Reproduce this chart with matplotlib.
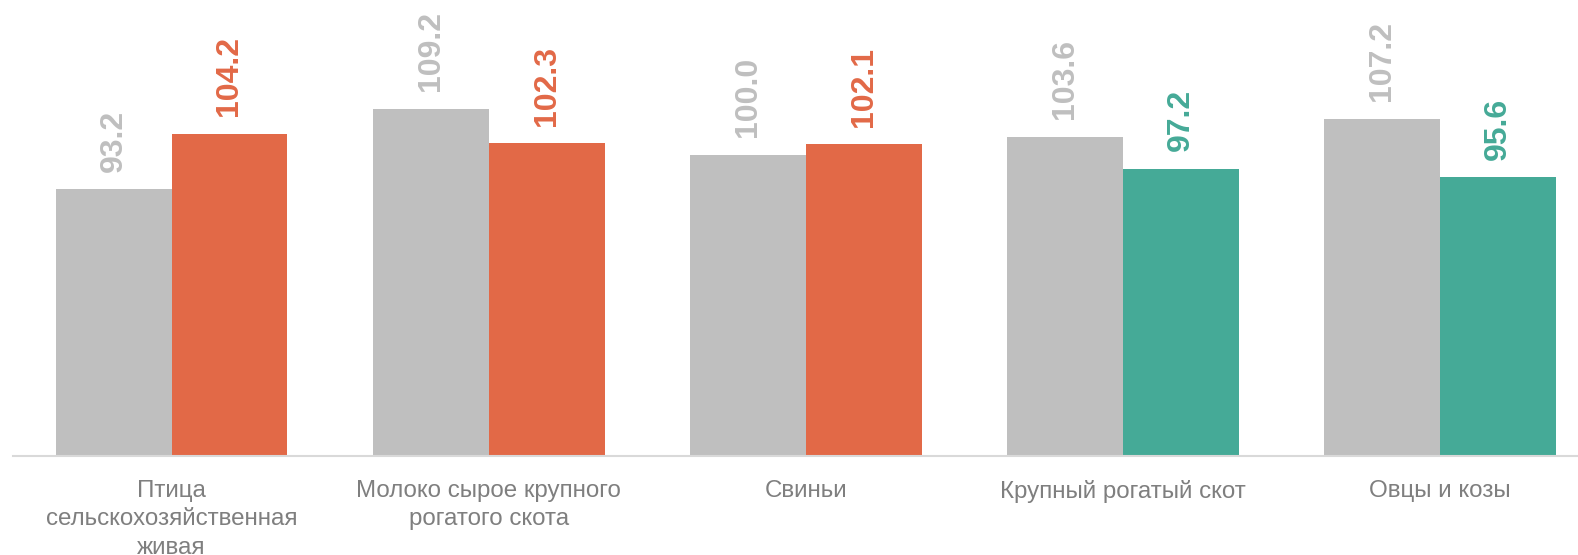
import matplotlib.pyplot as plt
import numpy as np

plt.rcParams['font.family'] = ['Liberation Sans', 'DejaVu Sans']

categories = ['Птица\nсельскохозяйственная\nживая',
              'Молоко сырое крупного\nрогатого скота',
              'Свиньи',
              'Крупный рогатый скот',
              'Овцы и козы']
prev_values = [93.2, 109.2, 100.0, 103.6, 107.2]
curr_values = [104.2, 102.3, 102.1, 97.2, 95.6]

gray = '#bfbfbf'
orange = '#e26947'
teal = '#45aa97'
curr_colors = [orange if v >= 100 else teal for v in curr_values]

W, H = 1578, 555
fig = plt.figure(figsize=(W / 100, H / 100), dpi=100)
base_px = 456
ax = fig.add_axes([13 / W, (H - base_px) / H, 1 - 13 / W, base_px / H])

x = np.arange(len(categories))
w = 0.365
b1 = ax.bar(x - w / 2, prev_values, w, color=gray, zorder=2)
b2 = ax.bar(x + w / 2, curr_values, w, color=curr_colors, zorder=2)

for rect, v in zip(b1, prev_values):
    ax.annotate(f'{v:.1f}', (rect.get_x() + rect.get_width() / 2, v),
                xytext=(0, 12.5), textcoords='offset points',
                rotation=90, ha='center', va='bottom',
                fontsize=23, fontweight='bold', color=gray)
for rect, v, c in zip(b2, curr_values, curr_colors):
    ax.annotate(f'{v:.1f}', (rect.get_x() + rect.get_width() / 2, v),
                xytext=(0, 12.5), textcoords='offset points',
                rotation=90, ha='center', va='bottom',
                fontsize=23, fontweight='bold', color=c)

ax.set_ylim(40, 40 + base_px / 5.02)
ax.set_xlim(-0.5, (W - 171.4) / 317.2)
ax.set_yticks([])
ax.set_xticks(x)
ax.set_xticklabels(categories, fontsize=17.4, color='#7f7f7f', linespacing=1.38)
ax.tick_params(axis='x', length=0, pad=17)
for s in ['top', 'right', 'left']:
    ax.spines[s].set_visible(False)
ax.spines['bottom'].set_color('#d9d9d9')
ax.spines['bottom'].set_linewidth(1.5)

plt.savefig('out.png', dpi=100)
